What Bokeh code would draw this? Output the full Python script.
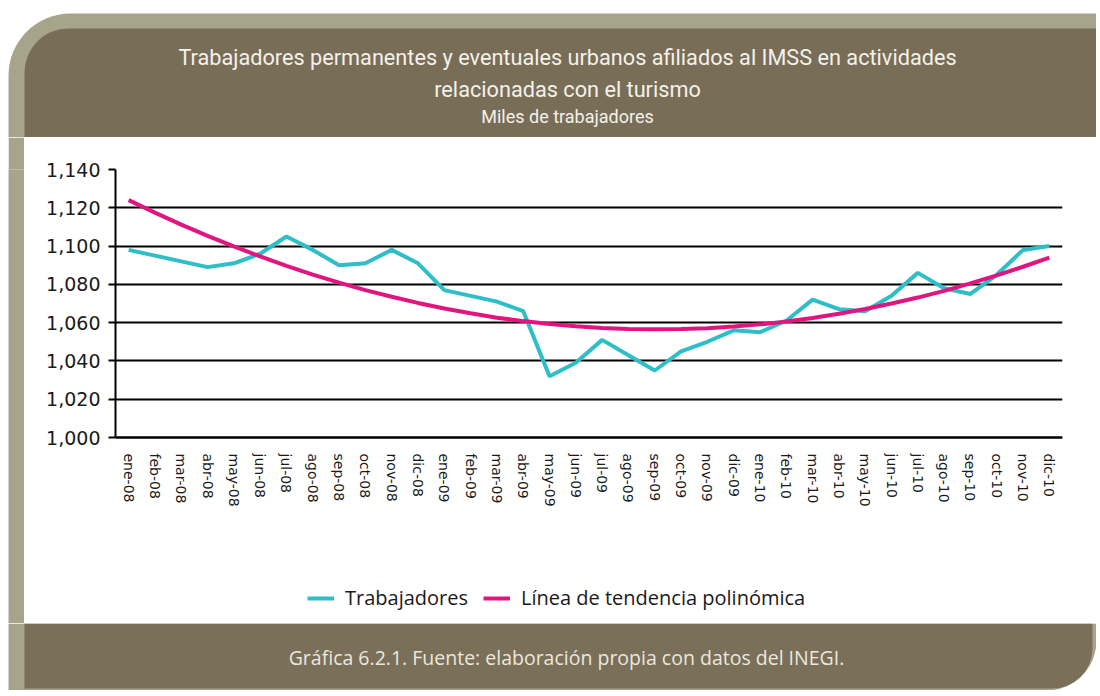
from bokeh.plotting import figure
from bokeh.layouts import column, row
from bokeh.models import (Range1d, FactorRange, BoxAnnotation, Label, Legend, LegendItem,
                          NumeralTickFormatter, FixedTicker, Spacer)
from bokeh.embed import file_html
from bokeh.resources import INLINE

months = ["ene-08", "feb-08", "mar-08", "abr-08", "may-08", "jun-08", "jul-08", "ago-08",
          "sep-08", "oct-08", "nov-08", "dic-08", "ene-09", "feb-09", "mar-09", "abr-09",
          "may-09", "jun-09", "jul-09", "ago-09", "sep-09", "oct-09", "nov-09", "dic-09",
          "ene-10", "feb-10", "mar-10", "abr-10", "may-10", "jun-10", "jul-10", "ago-10",
          "sep-10", "oct-10", "nov-10", "dic-10"]

trabajadores = [1098, 1095, 1092, 1089, 1091, 1096, 1105, 1098, 1090, 1091, 1098, 1091,
                1077, 1074, 1071, 1066, 1032, 1039, 1051, 1043, 1035, 1045, 1050, 1056,
                1055, 1061, 1072, 1067, 1066, 1074, 1086, 1078, 1075, 1085, 1098, 1100]

tendencia = [1124.0, 1117.5, 1111.2, 1105.3, 1099.8, 1094.6, 1089.7, 1085.1, 1080.9, 1077.0,
             1073.5, 1070.3, 1067.4, 1064.9, 1062.6, 1060.8, 1059.3, 1058.1, 1057.2, 1056.7,
             1056.5, 1056.7, 1057.1, 1058.0, 1059.1, 1060.6, 1062.4, 1064.6, 1067.1, 1070.0,
             1073.1, 1076.6, 1080.5, 1084.7, 1089.2, 1094.0]

y_ticks = [1000, 1020, 1040, 1060, 1080, 1100, 1120, 1140]

title_1 = "Trabajadores permanentes y eventuales urbanos afiliados al IMSS en actividades"
title_2 = "relacionadas con el turismo"
subtitle = "Miles de trabajadores"
footer = "Gráfica 6.2.1. Fuente: elaboración propia con datos del INEGI."
series_names = ["Trabajadores", "Línea de tendencia polinómica"]

W = 1096
HEAD_H, MID_H, FOOT_H = 137, 486, 67
GRAY = "#a7a48c"
DARK = "#786d57"
TITLE_FONT = "Roboto"


def deco_fig(w, h):
    f = figure(width=w, height=h, x_range=Range1d(0, w), y_range=Range1d(h, 0),
               output_backend="svg", toolbar_location=None, x_axis_type=None,
               y_axis_type=None, min_border=0)
    f.outline_line_color = None
    f.background_fill_color = "white"
    f.border_fill_color = "white"
    return f


def box(l, t, r, b, color, radius=0):
    return BoxAnnotation(left=l, right=r, top=t, bottom=b, fill_color=color, fill_alpha=1,
                         line_color=None, border_radius=radius)


# ---------- header ----------
head = deco_fig(W, HEAD_H)
head.add_layout(box(8, 13, W, HEAD_H, GRAY, (62, 0, 0, 0)))
head.add_layout(box(24, 28, W, HEAD_H, DARK, (44, 0, 0, 0)))
for txt, y, size in [(title_1, 57, "21.7px"), (title_2, 89, "21.7px"), (subtitle, 116, "18px")]:
    head.add_layout(Label(x=567, y=y, text=txt, text_align="center", text_baseline="middle",
                          text_color="#f4f1ea", text_font=TITLE_FONT, text_font_size=size))

# ---------- left stripe ----------
stripe = figure(width=16, height=MID_H, x_range=Range1d(0, 1), y_range=Range1d(0, 1),
                output_backend="svg", toolbar_location=None, x_axis_type=None,
                y_axis_type=None, min_border=0)
stripe.outline_line_color = None
stripe.background_fill_color = GRAY
stripe.border_fill_color = GRAY

# ---------- chart ----------
# frame spans the plot area plus the legend zone below it; 1,000..1,140 occupies the top part
FR_TOP, FR_BOT, Y0_PX = 169, 623, 437
px_per_unit = (Y0_PX - FR_TOP) / (y_ticks[-1] - y_ticks[0])
y_low = y_ticks[-1] - (FR_BOT - FR_TOP) / px_per_unit

p = figure(width=W - 24, height=MID_H, x_range=FactorRange(*months),
           y_range=Range1d(y_low, y_ticks[-1]), output_backend="svg", toolbar_location=None,
           min_border_left=91, min_border_right=34, min_border_top=32, min_border_bottom=0)
p.outline_line_color = None
p.background_fill_color = "white"
p.border_fill_color = "white"

ticker = FixedTicker(ticks=y_ticks)
p.yaxis.ticker = ticker
p.ygrid.ticker = ticker
p.yaxis.bounds = (y_ticks[0], y_ticks[-1])
p.yaxis.formatter = NumeralTickFormatter(format="0,0")
p.yaxis.major_label_text_font = "DejaVu Sans"
p.yaxis.major_label_text_font_size = "19px"
p.yaxis.major_label_text_color = "#1a1a1a"
p.yaxis.axis_line_color = "black"
p.yaxis.axis_line_width = 2
p.yaxis.major_tick_line_color = "black"
p.yaxis.major_tick_line_width = 2
p.yaxis.major_tick_out = 7
p.yaxis.major_tick_in = 0
p.yaxis.minor_tick_out = 0
p.yaxis.major_label_standoff = 8

p.xaxis.fixed_location = y_ticks[0]
p.xaxis.major_label_orientation = "vertical"
p.xaxis.major_label_text_font = "DejaVu Sans"
p.xaxis.major_label_text_font_size = "14px"
p.xaxis.major_label_text_color = "#1a1a1a"
p.xaxis.axis_line_color = "black"
p.xaxis.axis_line_width = 2
p.xaxis.major_tick_out = 0
p.xaxis.major_tick_in = 0
p.xaxis.major_label_standoff = 16

p.ygrid.grid_line_color = "black"
p.ygrid.grid_line_width = 2
p.xgrid.grid_line_color = None

r1 = p.line(months, trabajadores, line_color="#2dbec8", line_width=4)
r2 = p.line(months, tendencia, line_color="#e0157f", line_width=4)

legend = Legend(items=[LegendItem(label=series_names[0], renderers=[r1]),
                       LegendItem(label=series_names[1], renderers=[r2])],
                location=(192, 12), orientation="horizontal", padding=0, margin=0,
                spacing=15, glyph_width=27, glyph_height=20, label_standoff=11,
                label_text_font="Open Sans", label_text_font_size="20px",
                label_text_color="#1a1a1a", border_line_color=None,
                background_fill_alpha=0)
p.add_layout(legend, "center")

# ---------- footer ----------
foot = deco_fig(W, FOOT_H)
foot.add_layout(box(8, 0, W, FOOT_H, GRAY, (0, 0, 50, 0)))
foot.add_layout(box(24, 0, 1092, 65, "#7a6f59", (0, 0, 40, 0)))
foot.add_layout(Label(x=566, y=34, text=footer, text_align="center", text_baseline="middle",
                      text_color="#ebe7de", text_font="Open Sans", text_font_size="19.5px"))

layout = column(head, row(Spacer(width=8, height=MID_H), stripe, p, spacing=0), foot, spacing=0)
open("out.html", "w").write(file_html(layout, INLINE))
